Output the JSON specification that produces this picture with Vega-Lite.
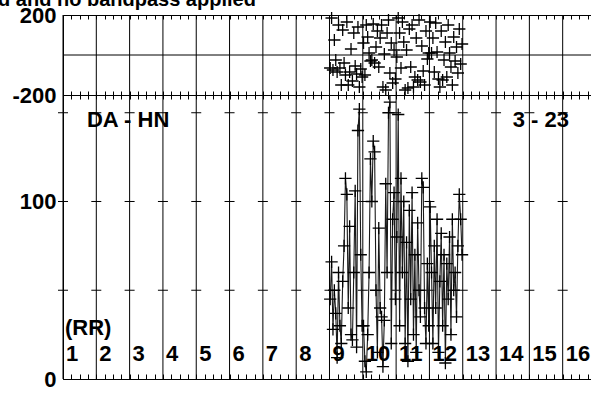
{
  "$schema": "https://vega.github.io/schema/vega-lite/v6.json",
  "autosize": {"type": "none"},
  "padding": {"left": 63, "top": 15, "right": 0, "bottom": 15},
  "background": "white",
  "width": 528,
  "height": 364,
  "config": {
    "view": {"stroke": null},
    "font": "Liberation Sans",
    "axis": {"domainColor": "black", "tickColor": "black", "labelColor": "black", "grid": false, "domainWidth": 1, "tickWidth": 1}
  },
  "datasets": {
    "chan": [
      {"x": 8.021, "amp": 45, "ph": -65}, {"x": 8.063, "amp": 66, "ph": 185}, {"x": 8.104, "amp": 28, "ph": -75}, {"x": 8.146, "amp": 50, "ph": 75},
      {"x": 8.188, "amp": 37, "ph": -25}, {"x": 8.229, "amp": 12, "ph": -85}, {"x": 8.271, "amp": 60, "ph": 150}, {"x": 8.313, "amp": 30, "ph": -65},
      {"x": 8.354, "amp": 20, "ph": -150}, {"x": 8.396, "amp": 55, "ph": 125}, {"x": 8.438, "amp": 75, "ph": -40}, {"x": 8.479, "amp": 113, "ph": -100},
      {"x": 8.521, "amp": 104, "ph": 165}, {"x": 8.563, "amp": 40, "ph": -150}, {"x": 8.604, "amp": 86, "ph": -85}, {"x": 8.646, "amp": 25, "ph": 30},
      {"x": 8.688, "amp": 22, "ph": -130}, {"x": 8.729, "amp": 60, "ph": 110}, {"x": 8.771, "amp": 106, "ph": -55}, {"x": 8.813, "amp": 18, "ph": -95},
      {"x": 8.854, "amp": 140, "ph": 140}, {"x": 8.896, "amp": 152, "ph": -160}, {"x": 8.938, "amp": 70, "ph": -70}, {"x": 8.979, "amp": 30, "ph": -110},
      {"x": 9.021, "amp": 30, "ph": 60}, {"x": 9.063, "amp": 10, "ph": -100}, {"x": 9.104, "amp": 4, "ph": 150}, {"x": 9.146, "amp": 25, "ph": 90},
      {"x": 9.188, "amp": 60, "ph": 10}, {"x": 9.229, "amp": 124, "ph": -30}, {"x": 9.271, "amp": 100, "ph": -25}, {"x": 9.313, "amp": 134, "ph": 155},
      {"x": 9.354, "amp": 128, "ph": -40}, {"x": 9.396, "amp": 50, "ph": 40}, {"x": 9.438, "amp": 15, "ph": 120}, {"x": 9.479, "amp": 85, "ph": -60},
      {"x": 9.521, "amp": 40, "ph": 85}, {"x": 9.563, "amp": 35, "ph": 150}, {"x": 9.604, "amp": 7, "ph": -160}, {"x": 9.646, "amp": 33, "ph": 5},
      {"x": 9.688, "amp": 110, "ph": -175}, {"x": 9.729, "amp": 60, "ph": 110}, {"x": 9.771, "amp": 150, "ph": 175}, {"x": 9.813, "amp": 156, "ph": -90},
      {"x": 9.854, "amp": 20, "ph": 60}, {"x": 9.896, "amp": 90, "ph": -140}, {"x": 9.938, "amp": 105, "ph": 25}, {"x": 9.979, "amp": 45, "ph": -120},
      {"x": 10.021, "amp": 80, "ph": -10}, {"x": 10.063, "amp": 149, "ph": 185}, {"x": 10.104, "amp": 30, "ph": 110}, {"x": 10.146, "amp": 113, "ph": -65},
      {"x": 10.188, "amp": 60, "ph": 165}, {"x": 10.229, "amp": 100, "ph": 65}, {"x": 10.271, "amp": 20, "ph": -175}, {"x": 10.313, "amp": 77, "ph": 25},
      {"x": 10.354, "amp": 10, "ph": -165}, {"x": 10.396, "amp": 95, "ph": 130}, {"x": 10.438, "amp": 45, "ph": -60}, {"x": 10.479, "amp": 105, "ph": 150},
      {"x": 10.521, "amp": 25, "ph": -160}, {"x": 10.563, "amp": 70, "ph": -110}, {"x": 10.604, "amp": 15, "ph": 85}, {"x": 10.646, "amp": 88, "ph": -125},
      {"x": 10.688, "amp": 50, "ph": 175}, {"x": 10.729, "amp": 35, "ph": -135}, {"x": 10.771, "amp": 113, "ph": 45}, {"x": 10.813, "amp": 108, "ph": -80},
      {"x": 10.854, "amp": 40, "ph": -150}, {"x": 10.896, "amp": 20, "ph": 120}, {"x": 10.938, "amp": 65, "ph": -20}, {"x": 10.979, "amp": 30, "ph": 10},
      {"x": 11.021, "amp": 97, "ph": 165}, {"x": 11.063, "amp": 60, "ph": 10}, {"x": 11.104, "amp": 20, "ph": 85}, {"x": 11.146, "amp": 75, "ph": -85},
      {"x": 11.188, "amp": 40, "ph": 160}, {"x": 11.229, "amp": 90, "ph": 15}, {"x": 11.271, "amp": 15, "ph": -120}, {"x": 11.313, "amp": 55, "ph": -160},
      {"x": 11.354, "amp": 82, "ph": 120}, {"x": 11.396, "amp": 30, "ph": -125}, {"x": 11.438, "amp": 70, "ph": -25}, {"x": 11.479, "amp": 9, "ph": 65},
      {"x": 11.521, "amp": 65, "ph": -110}, {"x": 11.563, "amp": 45, "ph": 150}, {"x": 11.604, "amp": 80, "ph": 10}, {"x": 11.646, "amp": 25, "ph": -60},
      {"x": 11.688, "amp": 90, "ph": -150}, {"x": 11.729, "amp": 50, "ph": 90}, {"x": 11.771, "amp": 60, "ph": -30}, {"x": 11.813, "amp": 35, "ph": 40},
      {"x": 11.854, "amp": 75, "ph": -90}, {"x": 11.896, "amp": 104, "ph": 130}, {"x": 11.938, "amp": 90, "ph": -45}, {"x": 11.979, "amp": 70, "ph": 55}
    ],
    "ifs": [
      {"start": 0, "label": "1"}, {"start": 1, "label": "2"}, {"start": 2, "label": "3"}, {"start": 3, "label": "4"},
      {"start": 4, "label": "5"}, {"start": 5, "label": "6"}, {"start": 6, "label": "7"}, {"start": 7, "label": "8"},
      {"start": 8, "label": "9"}, {"start": 9, "label": "10"}, {"start": 10, "label": "11"}, {"start": 11, "label": "12"},
      {"start": 12, "label": "13"}, {"start": 13, "label": "14"}, {"start": 14, "label": "15"}, {"start": 15, "label": "16"}
    ]
  },
  "resolve": {"scale": {"y": "independent"}, "axis": {"x": "independent", "y": "independent"}},
  "layer": [
    {
      "data": {"name": "ifs"},
      "mark": {"type": "rule", "color": "black", "strokeWidth": 1},
      "encoding": {
        "x": {"field": "start", "type": "quantitative", "scale": {"domain": [0, 15.85], "nice": false, "zero": false},
          "axis": {"orient": "top", "title": null, "labels": false, "tickSize": -4,
            "values": [0,0.25,0.5,0.75,1,1.25,1.5,1.75,2,2.25,2.5,2.75,3,3.25,3.5,3.75,4,4.25,4.5,4.75,5,5.25,5.5,5.75,6,6.25,6.5,6.75,7,7.25,7.5,7.75,8,8.25,8.5,8.75,9,9.25,9.5,9.75,10,10.25,10.5,10.75,11,11.25,11.5,11.75,12,12.25,12.5,12.75,13,13.25,13.5,13.75,14,14.25,14.5,14.75,15,15.25,15.5,15.75]}}
      }
    },
    {
      "data": {"values": [{}]},
      "mark": {"type": "rule", "color": "black", "strokeWidth": 1},
      "encoding": {"y": {"datum": 0, "type": "quantitative", "scale": {"domain": [-1620, 200], "nice": false, "zero": false}, "axis": null}}
    },
    {
      "data": {"name": "chan"},
      "mark": {"type": "point", "shape": "M-1,0L1,0M0,-1L0,1", "size": 150, "filled": false, "stroke": "black", "strokeWidth": 1.3, "opacity": 1},
      "encoding": {
        "x": {"field": "x", "type": "quantitative",
          "axis": {"orient": "bottom", "offset": -284, "title": null, "labels": false, "tickSize": -4,
            "values": [0,0.25,0.5,0.75,1,1.25,1.5,1.75,2,2.25,2.5,2.75,3,3.25,3.5,3.75,4,4.25,4.5,4.75,5,5.25,5.5,5.75,6,6.25,6.5,6.75,7,7.25,7.5,7.75,8,8.25,8.5,8.75,9,9.25,9.5,9.75,10,10.25,10.5,10.75,11,11.25,11.5,11.75,12,12.25,12.5,12.75,13,13.25,13.5,13.75,14,14.25,14.5,14.75,15,15.25,15.5,15.75]}},
        "y": {"field": "ph", "type": "quantitative", "scale": {"domain": [-1620, 200], "nice": false, "zero": false},
          "axis": {"orient": "left", "title": null, "values": [-200, 200], "ticks": false, "labelPadding": 7, "labelFontSize": 22, "labelFontWeight": "bold", "labelFont": "Liberation Sans",
            "labelExpr": "datum.value < 0 ? '-' + abs(datum.value) : '' + datum.value"}}
      }
    },
    {
      "data": {"values": [{"t": "d and no bandpass applied"}]},
      "mark": {"type": "text", "align": "left", "baseline": "alphabetic", "fontSize": 20, "fontWeight": "bold", "font": "Liberation Sans", "color": "black"},
      "encoding": {
        "x": {"datum": -1.95, "type": "quantitative", "axis": null},
        "y": {"datum": 245, "type": "quantitative", "scale": {"domain": [-1620, 200], "nice": false, "zero": false}, "axis": null},
        "text": {"field": "t"}
      }
    },
    {
      "data": {"name": "ifs"},
      "mark": {"type": "point", "shape": "M-1,0L1,0", "size": 100, "filled": false, "stroke": "black", "strokeWidth": 1, "opacity": 1},
      "encoding": {
        "x": {"field": "start", "type": "quantitative", "axis": null},
        "y": {"datum": 50, "type": "quantitative", "scale": {"domain": [0, 205.07], "nice": false, "zero": false}, "axis": null}
      }
    },
    {
      "data": {"name": "ifs"},
      "mark": {"type": "point", "shape": "M-1,0L1,0", "size": 100, "filled": false, "stroke": "black", "strokeWidth": 1, "opacity": 1},
      "encoding": {
        "x": {"field": "start", "type": "quantitative", "axis": null},
        "y": {"datum": 100, "type": "quantitative", "scale": {"domain": [0, 205.07], "nice": false, "zero": false}, "axis": null}
      }
    },
    {
      "data": {"name": "ifs"},
      "mark": {"type": "point", "shape": "M-1,0L1,0", "size": 100, "filled": false, "stroke": "black", "strokeWidth": 1, "opacity": 1},
      "encoding": {
        "x": {"field": "start", "type": "quantitative", "axis": null},
        "y": {"datum": 150, "type": "quantitative", "scale": {"domain": [0, 205.07], "nice": false, "zero": false}, "axis": null}
      }
    },
    {
      "data": {"name": "chan"},
      "mark": {"type": "line", "color": "#1a1a1a", "strokeWidth": 1.1},
      "encoding": {
        "x": {"field": "x", "type": "quantitative",
          "axis": {"orient": "bottom", "title": null, "labels": false, "tickSize": -5,
            "values": [0,0.25,0.5,0.75,1,1.25,1.5,1.75,2,2.25,2.5,2.75,3,3.25,3.5,3.75,4,4.25,4.5,4.75,5,5.25,5.5,5.75,6,6.25,6.5,6.75,7,7.25,7.5,7.75,8,8.25,8.5,8.75,9,9.25,9.5,9.75,10,10.25,10.5,10.75,11,11.25,11.5,11.75,12,12.25,12.5,12.75,13,13.25,13.5,13.75,14,14.25,14.5,14.75,15,15.25,15.5,15.75]}},
        "y": {"field": "amp", "type": "quantitative", "scale": {"domain": [0, 205.07], "nice": false, "zero": false},
          "axis": {"orient": "left", "title": null, "values": [0, 100], "ticks": false, "labelPadding": 7, "labelFontSize": 22, "labelFontWeight": "bold", "labelFont": "Liberation Sans"}}
      }
    },
    {
      "data": {"name": "chan"},
      "mark": {"type": "point", "shape": "M-1,0L1,0M0,-1L0,1", "size": 150, "filled": false, "stroke": "black", "strokeWidth": 1.3, "opacity": 1},
      "encoding": {
        "x": {"field": "x", "type": "quantitative",
          "axis": {"orient": "bottom", "offset": -284, "title": null, "labels": false, "tickSize": 4, "domain": false,
            "values": [0,0.25,0.5,0.75,1,1.25,1.5,1.75,2,2.25,2.5,2.75,3,3.25,3.5,3.75,4,4.25,4.5,4.75,5,5.25,5.5,5.75,6,6.25,6.5,6.75,7,7.25,7.5,7.75,8,8.25,8.5,8.75,9,9.25,9.5,9.75,10,10.25,10.5,10.75,11,11.25,11.5,11.75,12,12.25,12.5,12.75,13,13.25,13.5,13.75,14,14.25,14.5,14.75,15,15.25,15.5,15.75]}},
        "y": {"field": "amp", "type": "quantitative", "scale": {"domain": [0, 205.07], "nice": false, "zero": false}, "axis": null}
      }
    },
    {
      "data": {"name": "ifs"},
      "mark": {"type": "text", "align": "left", "baseline": "middle", "dx": 3, "fontSize": 22, "fontWeight": "bold", "font": "Liberation Sans", "color": "black"},
      "encoding": {
        "x": {"field": "start", "type": "quantitative", "axis": null},
        "y": {"datum": 14, "type": "quantitative", "scale": {"domain": [0, 205.07], "nice": false, "zero": false}, "axis": null},
        "text": {"field": "label"}
      }
    },
    {
      "data": {"values": [{"t": "(RR)", "px": 0.06, "py": 28.5}, {"t": "DA - HN", "px": 0.72, "py": 146}, {"t": "3 - 23", "px": 13.5, "py": 146}]},
      "mark": {"type": "text", "align": "left", "baseline": "middle", "fontSize": 22, "fontWeight": "bold", "font": "Liberation Sans", "color": "black"},
      "encoding": {
        "x": {"field": "px", "type": "quantitative", "axis": null},
        "y": {"field": "py", "type": "quantitative", "scale": {"domain": [0, 205.07], "nice": false, "zero": false}, "axis": null},
        "text": {"field": "t"}
      }
    }
  ]
}
